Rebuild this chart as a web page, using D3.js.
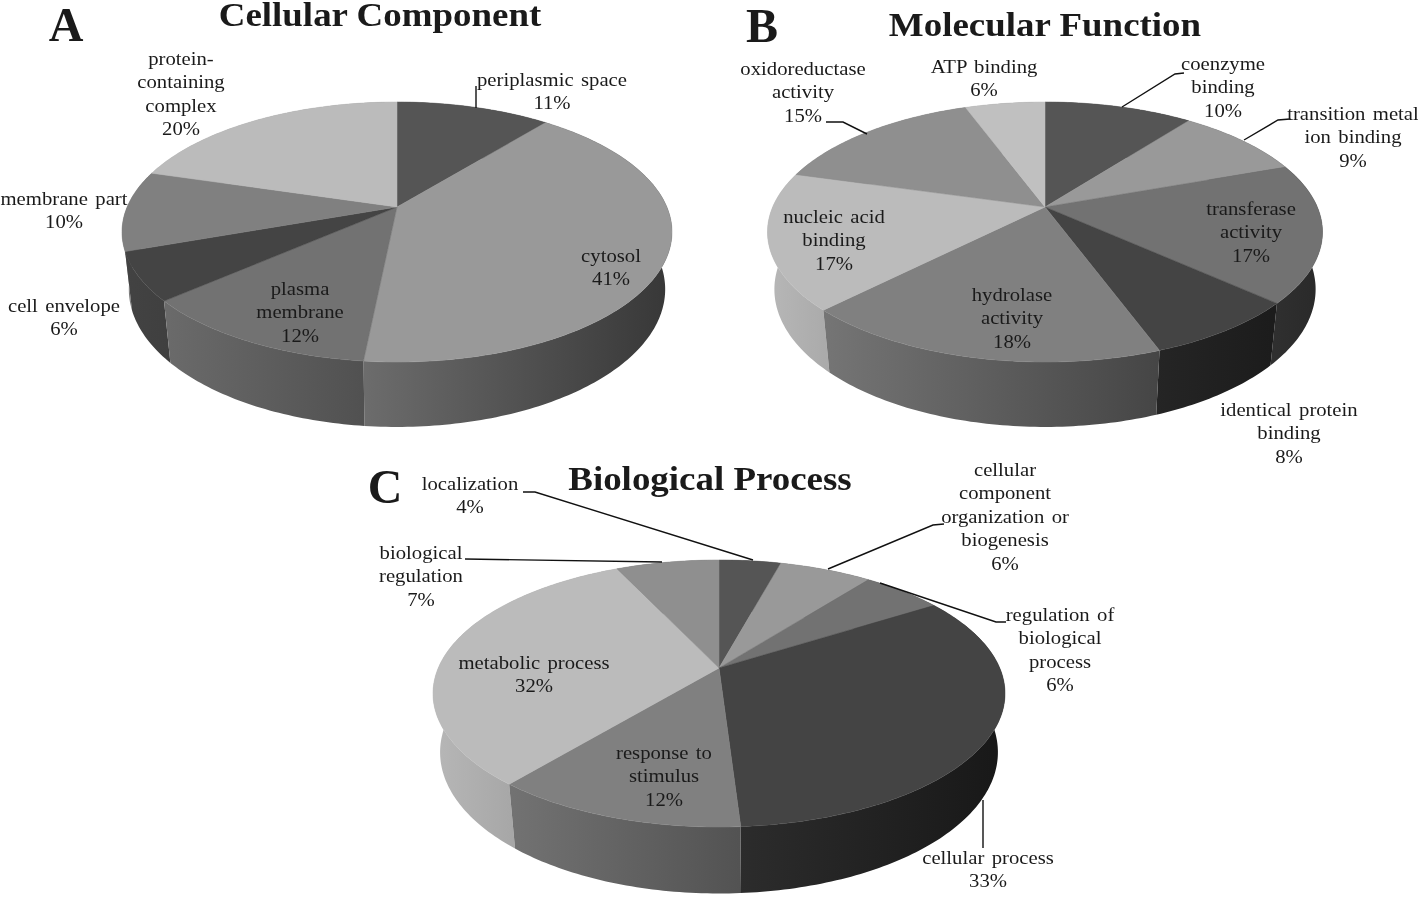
<!DOCTYPE html>
<html>
  <head>
    <meta charset="utf-8">
    <script src="https://d3js.org/d3.v7.min.js"></script>
    <style>
      html, body { margin: 0; background: #fff; }
      svg { display: block; filter: blur(0.4px); }
      text { font-family: "Liberation Serif", serif; fill: #1a1a1a; }
    </style>
  </head>
  <body>
    <div id="container"></div>

    <script type="text/javascript">
      var width = 1418,
          height = 897;

      // The data. Values are percent, names carry their line breaks
      var ccNames = ["periplasmic space", "cytosol", "plasma\nmembrane", "cell envelope", "membrane part", "protein-\ncontaining\ncomplex"];
      var ccValues = [10.9, 40.7, 12.0, 6.0, 10.0, 20.4];

      var mfNames = ["coenzyme\nbinding", "transition metal\nion binding", "transferase\nactivity", "identical protein\nbinding", "hydrolase\nactivity", "nucleic acid\nbinding", "oxidoreductase\nactivity", "ATP binding"];
      var mfValues = [10.4, 9.1, 17.2, 7.7, 18.0, 17.0, 15.0, 5.6];

      var bpNames = ["localization", "cellular\ncomponent\norganization or\nbiogenesis", "regulation of\nbiological\nprocess", "cellular process", "response to\nstimulus", "metabolic process", "biological\nregulation"];
      var bpValues = [4.2, 6.3, 5.5, 33.0, 12.0, 32.0, 7.0];

      // Slice greys, in chart order
      var greys = ["#555555", "#999999", "#727272", "#444444", "#808080", "#bbbbbb", "#8f8f8f", "#c0c0c0"];

      // Where each pie sits. ox/oy is the apex, far/near how far the
      // back and front rim are from it (the pies are drawn in perspective)
      var panels = [
        { id: "A", title: "Cellular Component", names: ccNames, values: ccValues,
          ox: 397, oy: 207, far: 105, near: 155, halfWidth: 275,
          titleX: 380, titleY: 26, letterX: 66, letterY: 41,
          labels: [[552, 86], [611, 262], [300, 295], [64, 312], [64, 205], [181, 65]],
          leaders: [[[476, 86], [476, 108]]] },
        { id: "B", title: "Molecular Function", names: mfNames, values: mfValues,
          ox: 1045, oy: 207, far: 105, near: 155, halfWidth: 277.5,
          titleX: 1045, titleY: 36, letterX: 762, letterY: 42,
          labels: [[1223, 70], [1353, 120], [1251, 215], [1289, 416], [1012, 301], [834, 223], [803, 75], [984, 73]],
          leaders: [[[1184, 73], [1175, 74], [1122, 107]],
                    [[1290, 119], [1278, 120], [1244, 140]],
                    [[826, 122], [843, 122], [867, 134]]] },
        { id: "C", title: "Biological Process", names: bpNames, values: bpValues,
          ox: 719, oy: 668, far: 108, near: 159, halfWidth: 286,
          titleX: 710, titleY: 490, letterX: 385, letterY: 503,
          labels: [[470, 490], [1005, 476], [1060, 621], [988, 864], [664, 759], [534, 669], [421, 559]],
          leaders: [[[523, 492], [535, 492], [753, 560]],
                    [[944, 524], [933, 525], [828, 569]],
                    [[1006, 622], [996, 622], [880, 583]],
                    [[465, 559], [662, 562]],
                    [[983, 800], [983, 848]]] }
      ];

      // The reference is stretched sideways, so the text is too
      var stretch = 1.12;

      var svg = d3.select("#container").append("svg")
        .attr("width", width)
        .attr("height", height);

      var defs = svg.append("defs");
      var line = d3.line();
      var lineHeight = 23.5;

      panels.forEach(drawPanel);

      function drawPanel(p) {
        var g = svg.append("g");

        // perspective of the top face: a circle seen from above and in front
        var k = (p.near - p.far) / (p.near + p.far),
            b = p.far * (1 + k),
            a = p.halfWidth * Math.sqrt(1 - k * k);

        function weight(angle) {
          return 1 + k * Math.cos(angle);
        }

        function topPoint(angle) {
          var w = weight(angle);
          return [p.ox + a * Math.sin(angle) / w, p.oy - b * Math.cos(angle) / w];
        }

        // the bottom rim: same circle lower down, its edges run to a vanishing point under the pie
        var vanishY = p.oy + 2360 * p.near / 155,
            depth = 0.0245;

        function bottomPoint(angle) {
          var t = topPoint(angle),
              f = depth / (weight(angle) + depth);
          return [t[0] + f * (p.ox - t[0]), t[1] + f * (vanishY - t[1])];
        }

        var arcs = d3.pie().sort(null)(p.values);

        function rim(d, project) {
          var n = Math.ceil((d.endAngle - d.startAngle) * 60);
          return d3.range(n + 1).map(function(i) {
            return project(d.startAngle + (d.endAngle - d.startAngle) * i / n);
          });
        }

        // walls get lighter on the left and darker on the right of the pie
        arcs.forEach(function(d, i) {
          var c = d3.rgb(greys[i]);
          function shade(f) { return d3.rgb(c.r * f, c.g * f, c.b * f).formatHex(); }
          var grad = defs.append("linearGradient")
            .attr("id", "wall-" + p.id + "-" + i)
            .attr("gradientUnits", "userSpaceOnUse")
            .attr("x1", p.ox - p.halfWidth).attr("y1", 0)
            .attr("x2", p.ox + p.halfWidth).attr("y2", 0);
          grad.append("stop").attr("offset", 0).attr("stop-color", shade(0.98));
          grad.append("stop").attr("offset", 1).attr("stop-color", shade(0.36));
        });

        // back to front, so the near walls end up on top
        var byDepth = arcs.map(function(d, i) { return { arc: d, index: i }; })
          .sort(function(x, y) {
            return Math.cos((y.arc.startAngle + y.arc.endAngle) / 2) - Math.cos((x.arc.startAngle + x.arc.endAngle) / 2);
          });

        g.selectAll("path.wall")
          .data(byDepth)
          .enter().append("path")
            .attr("class", "wall")
            .attr("d", function(d) {
              return line(rim(d.arc, topPoint).concat(rim(d.arc, bottomPoint).reverse())) + "Z";
            })
            .attr("fill", function(d) { return "url(#wall-" + p.id + "-" + d.index + ")"; });

        g.selectAll("path.slice")
          .data(arcs)
          .enter().append("path")
            .attr("class", "slice")
            .attr("d", function(d) {
              return line([[p.ox, p.oy]].concat(rim(d, topPoint))) + "Z";
            })
            .attr("fill", function(d, i) { return greys[i]; })
            .attr("stroke", function(d, i) { return greys[i]; })
            .attr("stroke-width", 0.5);

        g.selectAll("path.leader")
          .data(p.leaders)
          .enter().append("path")
            .attr("class", "leader")
            .attr("d", function(d) { return line(d); })
            .attr("fill", "none")
            .attr("stroke", "#111")
            .attr("stroke-width", 1.4);

        // slice labels: name over however many lines, then the rounded percent
        var labels = g.selectAll("text.label")
          .data(p.names)
          .enter().append("text")
            .attr("class", "label")
            .attr("text-anchor", "middle")
            .attr("font-size", 18.5)
            .attr("word-spacing", 2)
            .attr("transform", function(d, i) {
              return "translate(" + p.labels[i][0] + "," + p.labels[i][1] + ") scale(" + stretch + ",1)";
            });

        labels.selectAll("tspan")
          .data(function(d, i) {
            return d.split("\n").concat([Math.round(p.values[i]) + "%"]);
          })
          .enter().append("tspan")
            .attr("x", 0)
            .attr("y", function(d, j) { return j * lineHeight; })
            .text(function(d) { return d; });

        g.append("text")
          .attr("transform", "translate(" + p.titleX + "," + p.titleY + ") scale(" + stretch + ",1)")
          .attr("text-anchor", "middle")
          .attr("font-size", 33)
          .attr("font-weight", "bold")
          .text(p.title);

        g.append("text")
          .attr("x", p.letterX)
          .attr("y", p.letterY)
          .attr("text-anchor", "middle")
          .attr("font-size", 48)
          .attr("font-weight", "bold")
          .text(p.id);
      }
    </script>
  </body>
</html>
